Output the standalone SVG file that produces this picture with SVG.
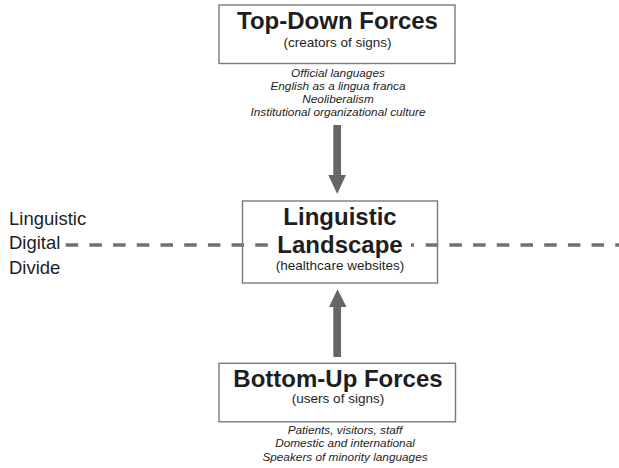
<svg xmlns="http://www.w3.org/2000/svg" width="619" height="468" viewBox="0 0 619 468">
<style>
.box{fill:none;stroke:#7a7a7a;stroke-width:1.4}
.t{font-family:"Liberation Sans",Arial,sans-serif;fill:#1e1e1e;text-anchor:middle}
.title{font-size:24px;font-weight:bold}
.sub{font-size:13.5px}
.it{font-size:11.8px;font-style:italic}
.side{font-family:"Liberation Sans",Arial,sans-serif;fill:#1e1e1e;font-size:18.5px}
.arrow{fill:#666}
.dash{fill:none;stroke:#707070;stroke-width:3.5;stroke-dasharray:12.5 11.2}
</style>
<rect width="619" height="468" fill="#fff"/>
<g id="divider-label">
<text class="side" x="9" y="224.5">Linguistic</text>
<text class="side" x="9" y="249">Digital</text>
<text class="side" x="9" y="273.5">Divide</text>
</g>
<g id="connectors">
<path class="dash" d="M65.7,245 H270 M411,245 H414 M425.7,245 H619"/>
<path class="arrow" d="M333.3,125 H341 V175 H346 L337.2,194 L328.3,175 H333.3 Z"/>
<path class="arrow" d="M333.3,357 V307 H329 L337.5,289.3 L346.5,307 H341 V357 Z"/>
</g>
<g id="top-down">
<rect class="box" x="219" y="5" width="236" height="58.5"/>
<text class="t title" x="337.5" y="29">Top-Down Forces</text>
<text class="t sub" x="337.5" y="47">(creators of signs)</text>
<text class="t it" x="338" y="76.5">Official languages</text>
<text class="t it" x="338" y="89.8">English as a lingua franca</text>
<text class="t it" x="338" y="103">Neoliberalism</text>
<text class="t it" x="338" y="116.3">Institutional organizational culture</text>
</g>
<g id="landscape">
<rect class="box" x="242.5" y="201" width="195" height="82"/>
<text class="t title" x="340" y="225">Linguistic</text>
<text class="t title" x="340" y="252.5" stroke="#fff" stroke-width="8" paint-order="stroke">Landscape</text>
<text class="t sub" x="340" y="270" font-size="13.2px">(healthcare websites)</text>
</g>
<g id="bottom-up">
<rect class="box" x="219" y="363.3" width="236.5" height="58.5"/>
<text class="t title" x="338" y="386.5">Bottom-Up Forces</text>
<text class="t sub" x="338" y="402.7">(users of signs)</text>
<text class="t it" x="345" y="434" font-size="11.5px">Patients, visitors, staff</text>
<text class="t it" x="345" y="447.3" font-size="11.5px">Domestic and international</text>
<text class="t it" x="345" y="460.7" font-size="11.5px">Speakers of minority languages</text>
</g>
</svg>
